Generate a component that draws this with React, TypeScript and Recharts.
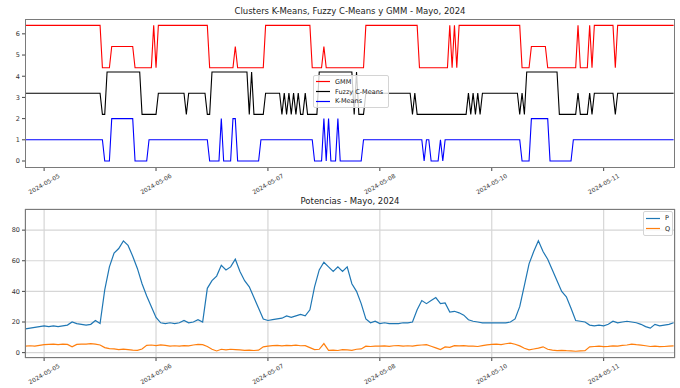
import React from "react";
import { LineChart, Line, XAxis, YAxis, CartesianGrid } from "recharts";

const FONT = "'DejaVu Sans', sans-serif";

// x axis = hours from 2024-05-05 00:00
const X_TICKS = [0, 24, 48, 72, 96, 120];
const X_LABELS = ["2024-05-05", "2024-05-06", "2024-05-07", "2024-05-08", "2024-05-10", "2024-05-11"];
const X_DOMAIN = [-4.1, 135.3];
const START_HOUR = -4;

// cluster labels, one every 30 min from START_HOUR
const KMEANS = [
  1, 1, 1, 1, 1, 1, 1, 1,
  1, 1, 1, 1, 1, 1, 1, 1, 1, 1, 1, 1, 1, 1, 1, 1, 1, 1, 1, 1, 1, 1, 1, 1,
  1, 1, 0, 0, 0, 2, 2, 2, 2, 2, 2, 2, 2, 2, 2, 0, 0, 0, 0, 0, 0, 1, 1, 1,
  1, 1, 1, 1, 1, 1, 1, 1, 1, 1, 1, 1, 1, 1, 1, 1, 1, 1, 1, 1, 1, 1, 1, 0,
  0, 0, 0, 0, 2, 0, 0, 0, 0, 2, 2, 0, 0, 0, 0, 0, 0, 0, 0, 0, 0, 1, 1, 1,
  1, 1, 1, 1, 1, 1, 1, 1, 1, 1, 1, 1, 1, 1, 1, 1, 1, 1, 1, 1, 0, 0, 0, 0,
  2, 0, 2, 0, 0, 0, 2, 0, 0, 0, 0, 0, 0, 0, 0, 0, 0, 1, 1, 1, 1, 1, 1, 1,
  1, 1, 1, 1, 1, 1, 1, 1, 1, 1, 1, 1, 1, 1, 1, 1, 1, 1, 1, 0, 1, 1, 0, 0,
  0, 0, 1, 0, 1, 1, 1, 1, 1, 1, 1, 1, 1, 1, 1, 1, 1, 1, 1, 1, 1, 1, 1, 1,
  1, 1, 1, 1, 1, 1, 1, 1, 1, 1, 1, 1, 1, 0, 0, 0, 0, 2, 2, 2, 2, 2, 2, 2,
  2, 0, 0, 0, 0, 0, 0, 0, 0, 0, 0, 1, 1, 1, 1, 1, 1, 1, 1, 1, 1, 1, 1, 1,
  1, 1, 1, 1, 1, 1, 1, 1, 1, 1, 1, 1, 1, 1, 1, 1, 1, 1, 1, 1, 1, 1, 1, 1,
  1, 1, 1, 1, 1, 1, 1,
];

const FUZZY = [
  1, 1, 1, 1, 1, 1, 1, 1,
  1, 1, 1, 1, 1, 1, 1, 1, 1, 1, 1, 1, 1, 1, 1, 1, 1, 1, 1, 1, 1, 1, 1, 1,
  1, 0, 0, 2, 2, 2, 2, 2, 2, 2, 2, 2, 2, 2, 2, 2, 2, 2, 0, 0, 0, 0, 0, 0,
  0, 1, 1, 1, 1, 1, 1, 1, 1, 1, 1, 1, 1, 0, 1, 1, 1, 1, 1, 1, 1, 1, 0, 0,
  2, 2, 2, 2, 2, 2, 2, 2, 2, 2, 2, 2, 2, 2, 2, 2, 0, 2, 0, 0, 0, 0, 0, 1,
  1, 1, 1, 1, 1, 1, 0, 1, 0, 1, 0, 1, 0, 1, 0, 0, 1, 0, 0, 0, 0, 0, 2, 2,
  2, 2, 2, 2, 2, 2, 2, 2, 2, 2, 2, 2, 2, 0, 2, 0, 0, 0, 1, 1, 1, 1, 1, 1,
  1, 1, 1, 1, 1, 1, 1, 1, 1, 1, 1, 1, 1, 1, 0, 1, 0, 0, 0, 0, 0, 0, 0, 0,
  0, 0, 0, 0, 0, 0, 0, 0, 0, 0, 0, 0, 0, 0, 1, 0, 1, 0, 1, 0, 1, 1, 1, 1,
  1, 1, 1, 1, 1, 1, 1, 1, 1, 1, 1, 1, 0, 1, 0, 2, 2, 2, 2, 2, 2, 2, 2, 2,
  2, 2, 2, 2, 2, 0, 0, 0, 0, 0, 0, 0, 0, 1, 0, 0, 0, 0, 1, 0, 1, 1, 1, 1,
  1, 1, 1, 1, 1, 0, 1, 1, 1, 1, 1, 1, 1, 1, 1, 1, 1, 1, 1, 1, 1, 1, 1, 1,
  1, 1, 1, 1, 1, 1, 1,
];

const GMM = [
  2, 2, 2, 2, 2, 2, 2, 2,
  2, 2, 2, 2, 2, 2, 2, 2, 2, 2, 2, 2, 2, 2, 2, 2, 2, 2, 2, 2, 2, 2, 2, 2,
  2, 0, 0, 0, 0, 1, 1, 1, 1, 1, 1, 1, 1, 1, 1, 0, 0, 0, 0, 0, 0, 0, 0, 2,
  0, 2, 2, 2, 2, 2, 2, 2, 2, 2, 2, 2, 2, 2, 2, 2, 2, 2, 2, 2, 2, 2, 2, 0,
  0, 0, 0, 0, 0, 0, 0, 0, 0, 0, 1, 0, 0, 0, 0, 0, 0, 0, 0, 0, 0, 0, 0, 2,
  2, 2, 2, 2, 2, 2, 2, 2, 2, 2, 2, 2, 2, 2, 2, 2, 2, 2, 2, 0, 0, 0, 0, 0,
  1, 0, 0, 0, 0, 0, 0, 0, 0, 0, 0, 0, 0, 0, 0, 0, 0, 0, 2, 2, 2, 2, 2, 2,
  2, 2, 2, 2, 2, 2, 2, 2, 2, 2, 2, 2, 2, 2, 2, 2, 2, 0, 0, 0, 0, 0, 0, 0,
  0, 0, 0, 0, 0, 0, 2, 0, 2, 0, 2, 2, 2, 2, 2, 2, 2, 2, 2, 2, 2, 2, 2, 2,
  2, 2, 2, 2, 2, 2, 2, 2, 2, 2, 2, 2, 2, 0, 0, 0, 0, 1, 1, 1, 1, 1, 1, 1,
  0, 0, 0, 0, 0, 0, 0, 0, 0, 0, 0, 0, 0, 2, 0, 0, 0, 0, 2, 0, 2, 2, 2, 2,
  2, 2, 2, 2, 2, 0, 2, 2, 2, 2, 2, 2, 2, 2, 2, 2, 2, 2, 2, 2, 2, 2, 2, 2,
  2, 2, 2, 2, 2, 2, 2,
];

const FUZZY_SHIFT = 2.2;
const GMM_SHIFT = 4.4;

// hourly power from START_HOUR
const P = [
  15.5, 16, 16.5, 17,
  17.5, 17, 17.5, 17, 17.5, 18, 20, 19, 18.5, 18, 18.5, 21,
  19, 41, 56, 65, 68, 73, 70, 63, 55, 45, 37, 30,
  23, 19.5, 19, 19.5, 19, 19.5, 21, 19.5, 20, 21.5, 20, 42,
  47, 50, 57, 54, 56, 61, 53, 47, 43, 36, 29, 22,
  21, 21.5, 22, 22.5, 24, 23, 24, 25, 24, 28, 43, 54,
  59, 56, 53, 56, 53, 56, 45, 40, 32, 22, 19.5, 20.5,
  19, 19.5, 19, 19, 19, 19.5, 19.5, 20, 28, 34, 32, 34,
  36, 32, 32.5, 26.5, 27, 26, 24.5, 21.5, 20.5, 20, 19.5, 19.5,
  19.5, 19.5, 19.5, 19.5, 20, 22, 30, 44, 58, 66, 73, 66,
  61, 54, 47, 40, 36.5, 29, 21, 20.5, 20, 18, 17.5, 18,
  17.5, 18.5, 20.5, 19.5, 20, 20.5, 20, 19.5, 18.5, 17, 16, 18.5,
  17.5, 18, 18.5, 19.5,
];

const Q = [
  4.3, 4.5, 4.2, 4.8,
  5.2, 5.4, 5.6, 5.3, 5.5, 5.4, 3.8, 5.4, 5.5, 5.6, 5.9, 5.5,
  5.0, 3.3, 2.6, 2.4, 2.0, 2.3, 2.0, 1.6, 1.5, 2.4, 4.8, 5.0,
  4.6, 5.1, 4.8, 4.3, 4.5, 4.2, 4.6, 4.4, 5.0, 5.4, 5.2, 4.0,
  2.2, 1.1, 2.2, 1.8, 2.2, 2.0, 1.8, 1.5, 1.6, 1.4, 1.6, 3.8,
  4.3, 4.6, 4.8, 4.4, 4.7, 4.6, 4.9, 4.5, 4.6, 3.3, 2.0, 2.2,
  5.9, 1.5, 1.6, 1.4, 2.0, 1.8, 1.5, 2.2, 2.4, 4.2, 4.0, 4.3,
  4.2, 4.4, 4.1, 4.5, 4.6, 4.3, 4.5, 4.2, 4.8, 5.0, 5.2, 4.2,
  3.1, 2.0, 3.7, 3.5, 4.6, 4.4, 4.6, 4.3, 4.2, 4.0, 4.6, 5.1,
  5.4, 5.6, 5.3, 5.8, 6.2, 5.5, 4.4, 2.9, 1.8, 2.4, 3.0, 3.8,
  2.2, 1.6, 1.3, 1.5, 1.3, 1.2, 0.9, 1.1, 1.3, 3.8, 4.0, 4.2,
  3.9, 4.1, 4.4, 4.3, 4.7, 5.0, 5.6, 5.2, 4.9, 4.5, 4.0, 4.2,
  3.9, 4.0, 4.2, 4.4,
];

const CLUSTER_SERIES = [
  { key: "gmm", name: "GMM", color: "#ff0000" },
  { key: "fuzzy", name: "Fuzzy C-Means", color: "#000000" },
  { key: "kmeans", name: "K-Means", color: "#0000ff" },
];
const POWER_SERIES = [
  { key: "p", name: "P", color: "#1f77b4" },
  { key: "q", name: "Q", color: "#ff7f0e" },
];

const clusterRows = KMEANS.map((k, i) => ({
  t: START_HOUR + i / 2,
  kmeans: k,
  fuzzy: FUZZY[i] + FUZZY_SHIFT,
  gmm: GMM[i] + GMM_SHIFT,
}));
const powerRows = P.map((p, i) => ({ t: START_HOUR + i, p, q: Q[i] }));

function DateTick({ x, y, payload }: any) {
  const label = X_LABELS[X_TICKS.indexOf(payload.value)];
  return (
    <g transform={`translate(${x},${y + 11})`}>
      <text transform="rotate(-30)" textAnchor="middle" dy="0.35em" fontSize={6} fill="#333" fontFamily={FONT}>
        {label}
      </text>
    </g>
  );
}

const yTick = { fontSize: 6.5, fill: "#333", fontFamily: FONT };

function Frame({ top }: { top: number }) {
  return (
    <div
      style={{
        position: "absolute",
        left: 25,
        top: top + 19,
        width: 650,
        height: 149,
        border: "1px solid #7a7a7a",
        boxSizing: "border-box",
        pointerEvents: "none",
      }}
    />
  );
}

function Title({ top, text }: { top: number; text: string }) {
  return (
    <div style={{ position: "absolute", left: 25, width: 650, top, textAlign: "center", fontSize: 8.5, lineHeight: "10px", color: "#222" }}>
      {text}
    </div>
  );
}

function LegendBox({ left, top, width, rowH, items }: any) {
  return (
    <div
      style={{
        position: "absolute",
        left,
        top,
        width,
        padding: "1px 2px",
        background: "rgba(255,255,255,0.8)",
        border: "1px solid #d4d4d4",
        borderRadius: 2,
        fontSize: 6.5,
        color: "#222",
      }}
    >
      {items.map((s: any) => (
        <div key={s.key} style={{ display: "flex", alignItems: "center", height: rowH }}>
          <svg width={14} height={3} style={{ flexShrink: 0, marginRight: 5 }}>
            <line x1={0} x2={14} y1={1.5} y2={1.5} stroke={s.color} strokeWidth={1.2} />
          </svg>
          <span>{s.name}</span>
        </div>
      ))}
    </div>
  );
}

export default function App() {
  return (
    <div style={{ position: "fixed", left: 0, top: 0, width: 680, height: 388, background: "#fff", fontFamily: FONT }}>
      <Title top={6} text="Clusters K-Means, Fuzzy C-Means y GMM - Mayo, 2024" />
      <div style={{ position: "absolute", left: 0, top: 0 }}>
        <LineChart width={680} height={196} data={clusterRows} margin={{ top: 19, right: 5, bottom: 0, left: 0 }}>
          <XAxis dataKey="t" type="number" domain={X_DOMAIN} allowDataOverflow ticks={X_TICKS} interval={0}
            tick={<DateTick />} tickSize={3} height={28} axisLine={false} stroke="#444" />
          <YAxis type="number" domain={[-0.33, 6.7]} allowDataOverflow ticks={[0, 1, 2, 3, 4, 5, 6]} interval={0}
            width={25} tickSize={3} tickMargin={2} axisLine={false} tick={yTick} stroke="#444" />
          {CLUSTER_SERIES.map((s) => (
            <Line key={s.key} dataKey={s.key} stroke={s.color} strokeWidth={1.1} dot={false} isAnimationActive={false} />
          ))}
        </LineChart>
      </div>
      <Frame top={0} />
      <LegendBox left={313} top={75} width={70} rowH={9.8} items={CLUSTER_SERIES} />

      <Title top={196} text="Potencias - Mayo, 2024" />
      <div style={{ position: "absolute", left: 0, top: 190 }}>
        <LineChart width={680} height={196} data={powerRows} margin={{ top: 19, right: 5, bottom: 0, left: 0 }}>
          <CartesianGrid stroke="#d6d6d6" strokeWidth={1.2} />
          <XAxis dataKey="t" type="number" domain={X_DOMAIN} allowDataOverflow ticks={X_TICKS} interval={0}
            tick={<DateTick />} tickSize={3} height={28} axisLine={false} stroke="#444" />
          <YAxis type="number" domain={[-3.5, 93.8]} allowDataOverflow ticks={[0, 20, 40, 60, 80]} interval={0}
            width={25} tickSize={3} tickMargin={2} axisLine={false} tick={yTick} stroke="#444" />
          {POWER_SERIES.map((s) => (
            <Line key={s.key} dataKey={s.key} stroke={s.color} strokeWidth={1.2} dot={false} isAnimationActive={false} />
          ))}
        </LineChart>
      </div>
      <Frame top={190} />
      <LegendBox left={643} top={211} width={24} rowH={10.5} items={POWER_SERIES} />
    </div>
  );
}
